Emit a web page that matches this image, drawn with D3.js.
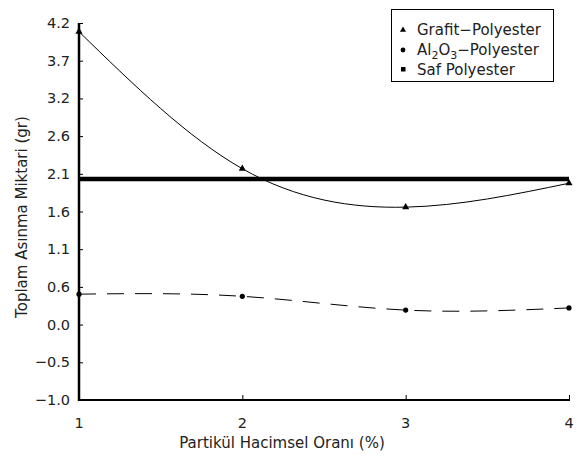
<!DOCTYPE html>
<html>
<head>
<meta charset="utf-8">
<script src="https://cdn.jsdelivr.net/npm/d3@7"></script>
<style>
  body { margin: 0; background: white; }
  text { font-family: "DejaVu Sans", "Liberation Sans", sans-serif; fill: #222; }
</style>
</head>
<body>
<svg id="chart"></svg>
<script>
// data
var xCats = [1, 2, 3, 4];
var grafit = [4.08, 2.19, 1.66, 1.99];
var alumina = [0.46, 0.43, 0.24, 0.27];
var saf = [2.05, 2.05, 2.05, 2.05];
var yTicks = [-1.0, -0.48, 0.04, 0.56, 1.08, 1.6, 2.12, 2.64, 3.16, 3.68, 4.2];
var yTickLabels = ["\u22121.0", "\u22120.5", "0.0", "0.6", "1.1", "1.6", "2.1", "2.6", "3.2", "3.7", "4.2"];

var W = 577, H = 464;
var margin = {top: 23, right: 8, bottom: 64, left: 79},
    width = W - margin.left - margin.right,
    height = H - margin.top - margin.bottom;

var svg = d3.select("#chart").attr("width", W).attr("height", H);

var x = d3.scaleLinear().domain([1, 4]).range([0, width]),
    y = d3.scaleLinear().domain([-1, 4.2]).range([height, 0]);

var g = svg.append("g")
    .attr("transform", "translate(" + margin.left + "," + margin.top + ")");

// saf polyester thick line (drawn first)
var line = d3.line().x((d, i) => x(xCats[i])).y(d => y(d));
var smooth = d3.line().x((d, i) => x(xCats[i])).y(d => y(d)).curve(d3.curveNatural);

g.append("path").datum(saf)
  .attr("d", line)
  .attr("fill", "none").attr("stroke", "#000").attr("stroke-width", 4.5);

g.append("path").datum(grafit)
  .attr("d", smooth)
  .attr("fill", "none").attr("stroke", "#000").attr("stroke-width", 1);

g.append("path").datum(alumina)
  .attr("d", smooth)
  .attr("fill", "none").attr("stroke", "#000").attr("stroke-width", 1)
  .attr("stroke-dasharray", "17,11");

// markers
var tri = d3.symbol().type(d3.symbolTriangle).size(22);
g.selectAll(".tri").data(grafit).enter().append("path")
  .attr("transform", (d, i) => "translate(" + x(xCats[i]) + "," + y(d) + ")")
  .attr("d", tri).attr("fill", "#000");

g.selectAll(".dot").data(alumina).enter().append("circle")
  .attr("cx", (d, i) => x(xCats[i])).attr("cy", d => y(d))
  .attr("r", 2.6).attr("fill", "#000");

// y axis
var yAxis = d3.axisRight(y).tickValues(yTicks).tickSize(4).tickFormat("");
var ya = g.append("g").call(yAxis);
ya.select(".domain").remove();
ya.selectAll("line").attr("stroke", "#000").attr("stroke-width", 1);
g.selectAll(".ylab").data(yTicks).enter().append("text")
  .attr("x", -9).attr("y", d => y(d) + 5)
  .attr("text-anchor", "end").style("font-size", "14.5px")
  .text((d, i) => yTickLabels[i]);

// x axis
var xAxis = d3.axisTop(x).tickValues(xCats).tickSize(5).tickFormat("");
var xa = g.append("g").attr("transform", "translate(0," + height + ")").call(xAxis);
xa.select(".domain").remove();
xa.selectAll("line").attr("stroke", "#000");
g.selectAll(".xlab").data(xCats).enter().append("text")
  .attr("x", d => x(d)).attr("y", height + 28)
  .attr("text-anchor", "middle").style("font-size", "14.5px")
  .text(d => d);

// axis lines
g.append("line").attr("x1", 0).attr("x2", 0).attr("y1", 0).attr("y2", height + 1)
  .attr("stroke", "#000").attr("stroke-width", 2.5);
g.append("line").attr("x1", 0).attr("x2", width + 1).attr("y1", height).attr("y2", height)
  .attr("stroke", "#000").attr("stroke-width", 2);

// axis titles
svg.append("text")
  .attr("transform", "translate(27," + 217 + ") rotate(-90)")
  .attr("text-anchor", "middle").style("font-size", "15px")
  .text("Toplam As\u0131nma Miktari (gr)");
svg.append("text")
  .attr("x", 282).attr("y", 448)
  .attr("text-anchor", "middle").style("font-size", "15px")
  .text("Partik\u00fcl Hacimsel Oran\u0131 (%)");

// legend
var leg = svg.append("g");
leg.append("rect").attr("x", 391.5).attr("y", 9.5).attr("width", 162).attr("height", 72)
  .attr("fill", "white").attr("stroke", "#000").attr("stroke-width", 1);
leg.append("path").attr("d", d3.symbol().type(d3.symbolTriangle).size(16))
  .attr("transform", "translate(403,30)");
leg.append("circle").attr("cx", 403).attr("cy", 50).attr("r", 2.4);
leg.append("rect").attr("x", 401).attr("y", 67).attr("width", 4.5).attr("height", 4.5);

leg.append("text").attr("x", 417).attr("y", 35).style("font-size", "15px")
  .text("Grafit\u2212Polyester");
var t2 = leg.append("text").attr("x", 417).attr("y", 55).style("font-size", "15px");
t2.append("tspan").text("Al");
t2.append("tspan").attr("dy", 4).style("font-size", "11px").text("2");
t2.append("tspan").attr("dy", -4).text("O");
t2.append("tspan").attr("dy", 4).style("font-size", "11px").text("3");
t2.append("tspan").attr("dy", -4).text("\u2212Polyester");
leg.append("text").attr("x", 417).attr("y", 75).style("font-size", "15px")
  .text("Saf Polyester");
</script>
</body>
</html>
